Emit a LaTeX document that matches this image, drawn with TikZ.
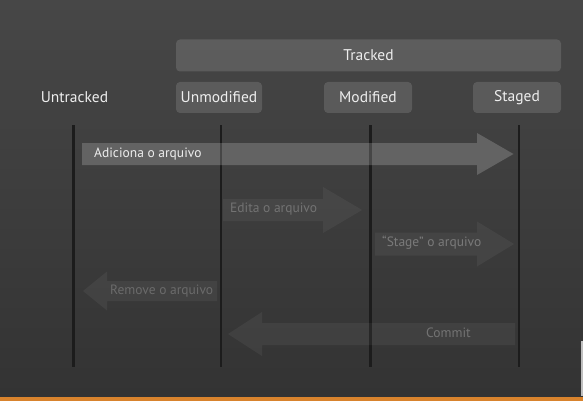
\documentclass[tikz,border=0pt]{standalone}
\usepackage{fontspec}
\setmainfont{PT Sans}
\definecolor{bgtop}{HTML}{474747}
\definecolor{bgbot}{HTML}{333333}
\definecolor{lanecol}{HTML}{1C1C1C}
\definecolor{barcol}{HTML}{D8832D}
\definecolor{boxtext}{HTML}{EEEEEE}
\newcommand\blockarr[7]{\fill[#1] (#2,#5-#6) -- (#3,#5-#6) -- (#3,#5-#7) -- (#4,#5) -- (#3,#5+#7) -- (#3,#5+#6) -- (#2,#5+#6) -- cycle;}
\begin{document}
\begin{tikzpicture}[x=1pt,y=-1pt,
  lbl/.style={font=\fontsize{13.5}{16}\selectfont, inner sep=0pt},
  hlbl/.style={font=\fontsize{15.5}{18}\selectfont, inner sep=0pt},
  box/.style={hlbl, fill=white, fill opacity=0.13, text opacity=1, text=boxtext, rounded corners=4pt, minimum height=31pt},
  lane/.style={draw=lanecol, line width=2.3pt},
  strongarrow/.style={fill=white, fill opacity=0.19},
  faintarrow/.style={fill=white, fill opacity=0.05},
  strongtext/.style={lbl, anchor=west, text=boxtext},
  fainttext/.style={lbl, anchor=west, text=white!45!black}]
\useasboundingbox (0,0) rectangle (583,401);
\shade[top color=bgtop, bottom color=bgbot] (0,0) rectangle (583,397);
\fill[barcol] (0,397) rectangle (583,401);
\fill[white!75!black] (580.5,341) rectangle (583,396);

% header
\node[box, minimum width=385pt, minimum height=32pt] (tracked) at (368.5,55.5) {Tracked};
\node[hlbl, text=boxtext] (untracked) at (74.5,97) {Untracked};
\node[box, minimum width=86pt] (unmod) at (219,97.5) {Unmodified};
\node[box, minimum width=88pt] (mod) at (368,97.5) {Modified};
\node[box, minimum width=88pt] (staged) at (517,97.5) {Staged};

% lanes
\coordinate (l1t) at (73.5,125);  \coordinate (l1b) at (73.5,367);
\coordinate (l2t) at (221,125);   \coordinate (l2b) at (221,367);
\coordinate (l3t) at (370.5,125); \coordinate (l3b) at (370.5,367);
\coordinate (l4t) at (519,125);   \coordinate (l4b) at (519,367);
\draw[lane] (l1t) -- (l1b);
\draw[lane] (l2t) -- (l2b);
\draw[lane] (l3t) -- (l3b);
\draw[lane] (l4t) -- (l4b);

% block arrows
\blockarr{strongarrow}{82}{477}{513.5}{154}{11}{21}
\blockarr{faintarrow}{223}{323}{362}{210}{11}{23}
\blockarr{faintarrow}{375}{477}{514}{244}{11.5}{22.5}
\blockarr{faintarrow}{217}{107}{83}{291}{10}{19.5}
\blockarr{faintarrow}{515}{262}{228}{334}{11}{22}

% labels
\node[strongtext] (t1) at (94,154) {Adiciona o arquivo};
\node[fainttext] (t2) at (230,209) {Edita o arquivo};
\node[fainttext, text=white!48!black] (t3) at (382,243) {“Stage” o arquivo};
\node[fainttext, text=white!42!black] (t4) at (110,291) {Remove o arquivo};
\node[fainttext] (t5) at (426,333) {Commit};
\end{tikzpicture}
\end{document}
